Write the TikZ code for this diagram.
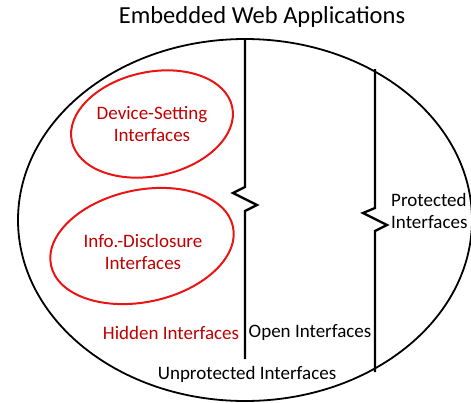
\documentclass[tikz,border=0pt]{standalone}
\usepackage{fontspec}
\setmainfont{Carlito}
\usetikzlibrary{shapes.geometric}
\definecolor{hidred}{RGB}{192,0,0}
\definecolor{ringred}{RGB}{235,20,20}
\begin{document}
\begin{tikzpicture}[x=1pt,y=-1pt,
  lbl/.style={inner sep=0pt, font=\fontsize{19}{22.5}\selectfont, align=center},
  redlbl/.style={lbl, text=hidred},
  ring/.style={draw=ringred, line width=2pt},
  divider/.style={draw=black, line width=2.3pt, line join=miter}]
\useasboundingbox (0,0) rectangle (471,402);
% outer boundary
\draw[line width=1.8pt] (245,220) ellipse [x radius=227, y radius=181];
% title
\node[lbl, font=\fontsize{24.5}{29}\selectfont] (title) at (262,17) {Embedded Web Applications};
% hidden interface groups
\draw[ring, rotate around={12:(152,124)}] (152,124) ellipse [x radius=82, y radius=52];
\draw[ring, rotate around={12:(142,246)}] (142,246) ellipse [x radius=93, y radius=56];
\node[redlbl] (dev) at (152,124) {Device-Setting\\Interfaces};
\node[redlbl] (info) at (143,252) {Info.-Disclosure\\Interfaces};
% boundary between hidden and open interfaces
\coordinate (ltop) at (245,39);
\coordinate (lbot) at (245,359);
\draw[divider] (ltop) -- (245,187) -- (233,193) -- (257,205) -- (245,211) -- (lbot);
% boundary between unprotected and protected interfaces
\coordinate (rtop) at (375,69);
\coordinate (rbot) at (375,372);
\draw[divider] (rtop) -- (375,208) -- (363,213) -- (387,225) -- (375,231) -- (rbot);
% region labels
\node[redlbl] (hid) at (171,333) {Hidden Interfaces};
\node[lbl] (open) at (310,333) {Open Interfaces};
\node[lbl] (unp) at (247,374) {Unprotected Interfaces};
\node[lbl, align=left, anchor=west] (prot) at (391,211) {Protected\\Interfaces};
\end{tikzpicture}
\end{document}
